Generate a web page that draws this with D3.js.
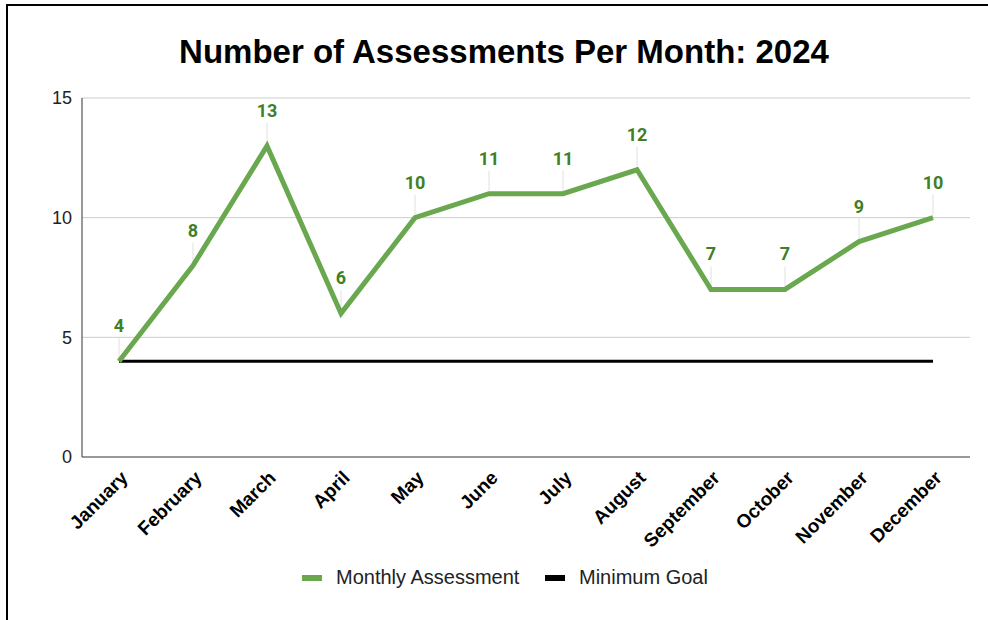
<!DOCTYPE html>
<html>
<head>
<meta charset="utf-8">
<script src="https://cdn.jsdelivr.net/npm/d3@7"></script>
<style>
  body { margin: 0; background: #fff; }
  svg { display: block; font-family: Arial, "Liberation Sans", sans-serif; }
</style>
</head>
<body>
<div id="chart"></div>
<script>
// data
const months = ["January", "February", "March", "April", "May", "June",
  "July", "August", "September", "October", "November", "December"];
const assessments = [4, 8, 13, 6, 10, 11, 11, 12, 7, 7, 9, 10];
const minimumGoal = [4, 4, 4, 4, 4, 4, 4, 4, 4, 4, 4, 4];
const yTicks = [0, 5, 10, 15];

const width = 988;
const height = 620;
const margin = { top: 98, right: 18, bottom: 163, left: 82 };
const chartWidth = width - margin.left - margin.right;
const chartHeight = height - margin.top - margin.bottom;

const green = "#6aa84f";
const labelGreen = "#3f7f27";

const svg = d3.select("#chart")
  .append("svg")
  .attr("width", width)
  .attr("height", height);

// frame (top and left edges)
svg.append("line")
  .attr("x1", 6).attr("x2", width).attr("y1", 5).attr("y2", 5)
  .attr("stroke", "#000").attr("stroke-width", 2);
svg.append("line")
  .attr("x1", 7).attr("x2", 7).attr("y1", 4).attr("y2", height)
  .attr("stroke", "#000").attr("stroke-width", 2);

// title
svg.append("text")
  .attr("x", 504)
  .attr("y", 63)
  .attr("text-anchor", "middle")
  .attr("font-weight", "bold")
  .style("font-size", "33px")
  .attr("fill", "#000")
  .text("Number of Assessments Per Month: 2024");

const g = svg.append("g")
  .attr("transform", `translate(${margin.left},${margin.top})`);

const x = d3.scalePoint().domain(months).range([0, chartWidth]).padding(0.5);
const y = d3.scaleLinear().domain([0, 15]).range([chartHeight, 0]);

// gridlines
g.append("g")
  .selectAll("line")
  .data(yTicks.filter(d => d > 0))
  .join("line")
  .attr("x1", 0)
  .attr("x2", chartWidth)
  .attr("y1", d => y(d))
  .attr("y2", d => y(d))
  .attr("stroke", "#cccccc")
  .attr("stroke-width", 1);

// y axis labels
g.append("g")
  .selectAll("text")
  .data(yTicks)
  .join("text")
  .attr("x", -10)
  .attr("y", d => y(d))
  .attr("dy", "0.36em")
  .attr("text-anchor", "end")
  .attr("fill", "#222")
  .style("font-size", "18px")
  .text(d => d);

// axis lines
g.append("line")
  .attr("x1", 0).attr("x2", 0).attr("y1", 0).attr("y2", chartHeight)
  .attr("stroke", "#333").attr("stroke-width", 1);
g.append("line")
  .attr("x1", 0).attr("x2", chartWidth).attr("y1", chartHeight).attr("y2", chartHeight)
  .attr("stroke", "#333").attr("stroke-width", 1);

// x labels
g.append("g")
  .selectAll("text")
  .data(months)
  .join("text")
  .attr("transform", d => `translate(${x(d) + 10},${chartHeight + 22}) rotate(-45)`)
  .attr("text-anchor", "end")
  .attr("font-weight", "bold")
  .attr("fill", "#000")
  .style("font-size", "19px")
  .text(d => d);

const line = d3.line()
  .x((d, i) => x(months[i]))
  .y(d => y(d));

// minimum goal
g.append("path")
  .datum(minimumGoal)
  .attr("d", line)
  .attr("fill", "none")
  .attr("stroke", "#000")
  .attr("stroke-width", 3);

// leader lines for data labels
g.append("g")
  .selectAll("line")
  .data(assessments)
  .join("line")
  .attr("x1", (d, i) => x(months[i]))
  .attr("x2", (d, i) => x(months[i]))
  .attr("y1", d => y(d) - 3)
  .attr("y2", d => y(d) - 23)
  .attr("stroke", "#e0e0e0")
  .attr("stroke-width", 1);

// monthly assessments
g.append("path")
  .datum(assessments)
  .attr("d", line)
  .attr("fill", "none")
  .attr("stroke", green)
  .attr("stroke-width", 5);

// data labels
g.append("g")
  .selectAll("text")
  .data(assessments)
  .join("text")
  .attr("x", (d, i) => x(months[i]))
  .attr("y", d => y(d) - 29)
  .attr("text-anchor", "middle")
  .attr("font-weight", "bold")
  .attr("fill", labelGreen)
  .style("font-family", "Roboto, sans-serif")
  .style("font-size", "18px")
  .text(d => d);

// legend
const legendItems = [
  { name: "Monthly Assessment", color: green, x: 302 },
  { name: "Minimum Goal", color: "#000", x: 545 }
];
const legend = svg.append("g");
legend.selectAll("rect")
  .data(legendItems)
  .join("rect")
  .attr("x", d => d.x)
  .attr("y", 575)
  .attr("width", 20)
  .attr("height", 6)
  .attr("fill", d => d.color);
legend.selectAll("text")
  .data(legendItems)
  .join("text")
  .attr("x", d => d.x + 34)
  .attr("y", 584)
  .attr("fill", "#222")
  .style("font-size", "20px")
  .text(d => d.name);
</script>
</body>
</html>
